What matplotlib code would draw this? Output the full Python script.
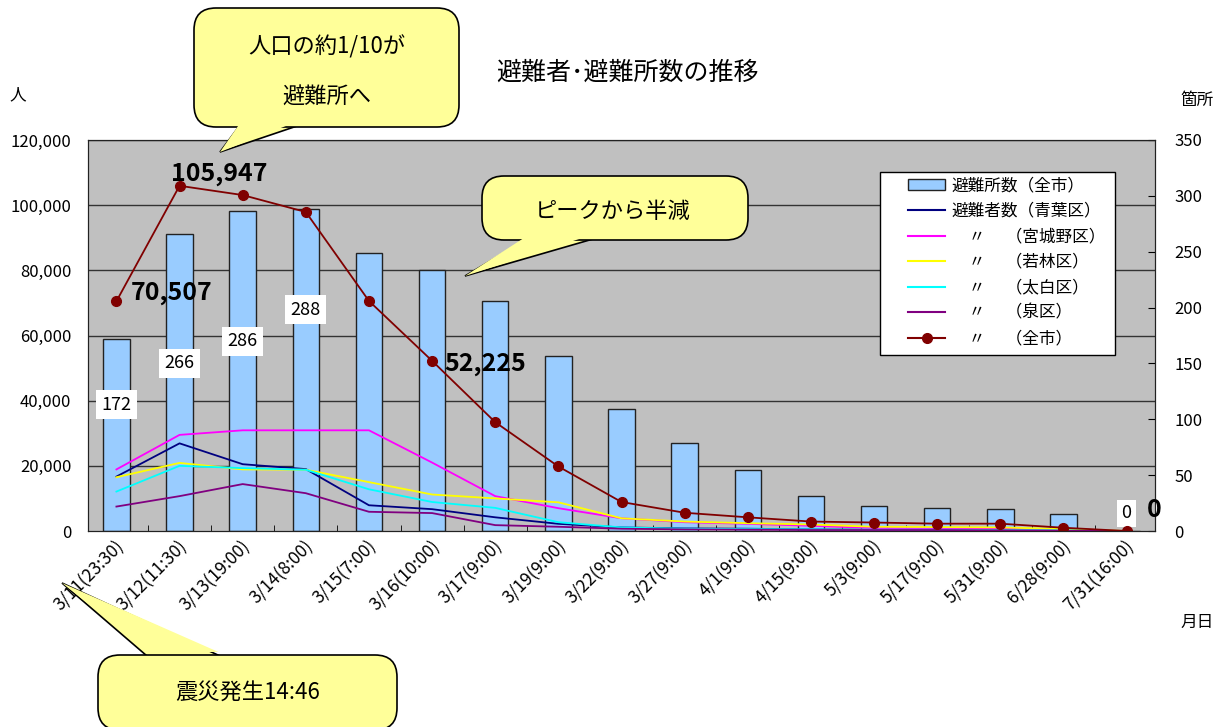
import numpy as np
import matplotlib
matplotlib.use('Agg')
import matplotlib.pyplot as plt
import matplotlib.transforms as mtrans
from matplotlib.patches import FancyBboxPatch, Polygon, Patch, Rectangle
from matplotlib.lines import Line2D

plt.rcParams['font.family'] = ['Noto Sans CJK JP', 'DejaVu Sans']

dates = ['3/11(23:30)', '3/12(11:30)', '3/13(19:00)', '3/14(8:00)', '3/15(7:00)',
         '3/16(10:00)', '3/17(9:00)', '3/19(9:00)', '3/22(9:00)', '3/27(9:00)',
         '4/1(9:00)', '4/15(9:00)', '5/3(9:00)', '5/17(9:00)', '5/31(9:00)',
         '6/28(9:00)', '7/31(16:00)']
# shelters (right axis)
shelters = [172, 266, 286, 288, 249, 234, 206, 157, 109, 79, 55, 31, 22, 21, 20, 15, 0]
# evacuees (left axis)
total = [70507, 105947, 103100, 97900, 70600, 52225, 33400, 19800, 8900, 5600,
         4200, 2900, 2600, 2250, 2250, 1000, 0]
aoba = [16700, 26900, 20500, 19000, 7900, 6700, 4200, 2200, 1100, 800, 700, 500, 400, 400, 300, 200, 0]
miyagino = [18900, 29500, 30900, 30900, 30900, 21000, 10700, 7000, 3900, 2700, 2200, 1600, 900, 800, 700, 300, 0]
wakabayashi = [16500, 20900, 18900, 18800, 15000, 11200, 10000, 8800, 3900, 2900, 2400, 2000, 1300, 1200, 1100, 600, 0]
taihaku = [12100, 20000, 19300, 18800, 12800, 8900, 7100, 2700, 1100, 700, 600, 500, 400, 400, 300, 200, 0]
izumi = [7500, 10700, 14400, 11600, 5900, 5500, 1800, 1300, 700, 500, 400, 300, 300, 300, 200, 100, 0]

legend_labels = ['避難所数（全市）', '避難者数（青葉区）', '　〃　 （宮城野区）',
                 '　〃　 （若林区）', '　〃　 （太白区）', '　〃　 （泉区）', '　〃　 （全市）']

W, H = 1222, 727
fig = plt.figure(figsize=(W / 100, H / 100), dpi=100)
ax = fig.add_axes([88 / W, 1 - 531 / H, (1155 - 88) / W, (531 - 140) / H])
ax.set_facecolor('#C0C0C0')
x = np.arange(len(dates))
pix = mtrans.Affine2D().scale(1 / W, -1 / H).translate(0, 1) + fig.transFigure

LMAX, RMAX = 120000, 350
# gridlines of the left axis, drawn under the bars
for v in range(20000, LMAX + 1, 20000):
    ax.axhline(v * RMAX / LMAX, color='#333333', lw=1, zorder=1)

bars = ax.bar(x, shelters, width=0.42, color='#99CCFF', edgecolor='#222222', lw=1, zorder=2)
ax.set_ylim(0, RMAX)
ax.set_yticks(range(0, RMAX + 1, 50))
ax.set_xlim(-0.45, len(dates) - 0.55)

# bar labels
label_pos = [113, 150, 170, 198]
for i, yv in enumerate(label_pos):
    ax.text(x[i], yv, str(shelters[i]), ha='center', va='center', fontsize=13,
            bbox=dict(boxstyle='square,pad=0.3', fc='white', ec='none'), zorder=5)
ax.text(x[-1], 16, str(shelters[-1]), ha='center', va='center', fontsize=13,
        bbox=dict(boxstyle='square,pad=0.25', fc='white', ec='none'), zorder=5)

ax2 = ax.twinx()
ax2.yaxis.tick_left()
ax.yaxis.tick_right()
ax.tick_params(axis='y', direction='in', length=5, labelsize=12, pad=14)
ax2.set_ylim(0, LMAX)
ax2.set_yticks(range(0, LMAX + 1, 20000))
ax2.set_yticklabels([f'{v:,}' for v in range(0, LMAX + 1, 20000)])
ax2.tick_params(axis='y', length=0, labelsize=12, pad=12)

ax2.plot(x, aoba, color='#000080', lw=1.3)
ax2.plot(x, miyagino, color='#FF00FF', lw=1.3)
ax2.plot(x, wakabayashi, color='#FFFF00', lw=1.3)
ax2.plot(x, taihaku, color='#00FFFF', lw=1.3)
ax2.plot(x, izumi, color='#800080', lw=1.3)
ax2.plot(x, total, color='#800000', lw=1.3, marker='o', ms=7)

for i, (dx, dy) in [(0, (55, 8)), (1, (40, 12)), (5, (53, -3)), (16, (28, 21))]:
    ax2.annotate(f'{total[i]:,}', (x[i], total[i]), xytext=(dx, dy),
                 textcoords='offset pixels', ha='center', va='center',
                 fontsize=18, fontweight='bold')

# x axis: labels at centres, inward ticks between categories
ax.set_xticks(x)
ax.set_xticks(x[:-1] + 0.5, minor=True)
ax.tick_params(axis='x', which='major', length=0, pad=9)
ax.tick_params(axis='x', which='minor', direction='in', length=4)
ax.set_xticklabels(dates, rotation=45, ha='right', va='center', rotation_mode='anchor',
                   fontsize=12.5)
off = mtrans.ScaledTranslation(5 / 100, 0, fig.dpi_scale_trans)
for lab in ax.get_xticklabels():
    lab.set_transform(lab.get_transform() + off)
for a in (ax, ax2):
    for s in a.spines.values():
        s.set_color('#222222')

# legend: white frame drawn separately
ax2.add_patch(Rectangle((880, 172), 235, 183, transform=pix, fc='white', ec='black',
                        lw=1, zorder=4, clip_on=False))
handles = [Patch(fc='#99CCFF', ec='#222222'),
           Line2D([], [], color='#000080'), Line2D([], [], color='#FF00FF'),
           Line2D([], [], color='#FFFF00'), Line2D([], [], color='#00FFFF'),
           Line2D([], [], color='#800080'),
           Line2D([], [], color='#800000', marker='o', ms=7)]
leg = ax2.legend(handles, legend_labels, loc='upper left',
                 bbox_to_anchor=(905 / W, 1 - 174 / H), bbox_transform=fig.transFigure,
                 frameon=False, fontsize=12,
                 handlelength=2.2, handleheight=0.6, labelspacing=0.51, borderpad=0.2,
                 borderaxespad=0, handletextpad=0.4, numpoints=1)
leg.set_zorder(6)

# texts around the chart
fig.text(627 / W, 1 - 73 / H, '避難者･避難所数の推移', ha='center', va='center', fontsize=18)
fig.text(18 / W, 1 - 95 / H, '人', ha='center', va='center', fontsize=12)
fig.text(1197 / W, 1 - 100 / H, '箇所', ha='center', va='center', fontsize=12)
fig.text(1197 / W, 1 - 622 / H, '月日', ha='center', va='center', fontsize=12)


def callout(x0, y0, x1, y1, tip, base, texts, r=22):
    yell = '#FFFF99'
    wedge = [base[0], tip, base[1]]
    fig.add_artist(Polygon(wedge, closed=True, fc=yell, ec='black', lw=1.2,
                           transform=pix, zorder=10))
    fig.add_artist(FancyBboxPatch((x0, y0), x1 - x0, y1 - y0,
                                  boxstyle=f'round,pad=0,rounding_size={r}',
                                  fc=yell, ec='black', lw=1.2, transform=pix, zorder=11))
    # hide the box border where the pointer joins
    bx = [(base[0][0] + 1.5, base[0][1] - 4), tip, (base[1][0] - 1.5, base[1][1] - 4)]
    fig.add_artist(Polygon(bx, closed=True, fc=yell, ec='none', transform=pix, zorder=12))
    for tx, ty, s in texts:
        fig.text(tx / W, 1 - ty / H, s, ha='center', va='center', fontsize=16, zorder=13)


callout(194, 8, 459, 127, (220, 152), [(240, 125), (300, 125)],
        [(327, 47, '人口の約1/10が'), (327, 96, '避難所へ')])
callout(482, 176, 748, 240, (465, 276), [(527, 239), (593, 239)],
        [(613, 211, 'ピークから半減')])
callout(98, 655, 397, 730, (62, 583), [(147, 656), (220, 656)],
        [(248, 692, '震災発生14:46')])

fig.savefig('out.png', dpi=100)
